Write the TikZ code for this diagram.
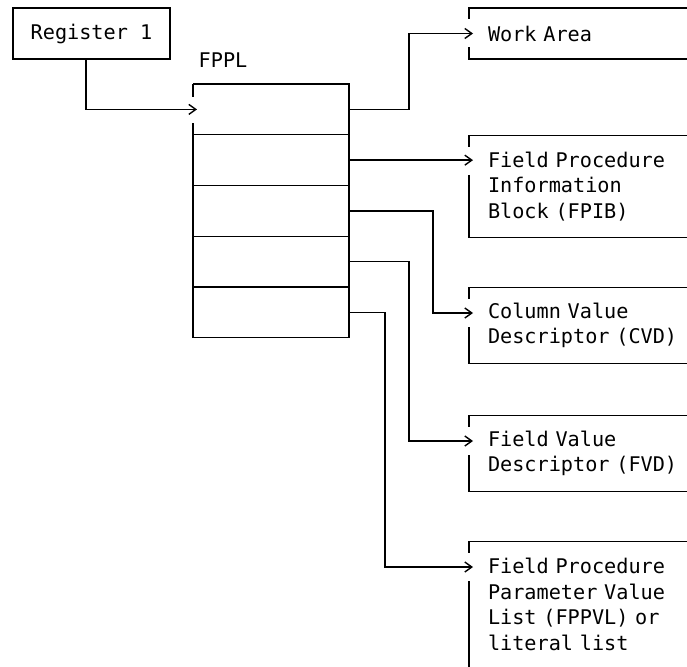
\documentclass[tikz,border=0pt]{standalone}
\usepackage{fontspec}
\newfontfamily\diagfont{DejaVu Sans Mono}
\usetikzlibrary{arrows.meta,positioning}

\begin{document}
\begin{tikzpicture}[
  x=1pt, y=-1pt,
  font=\diagfont\fontsize{20.2}{25.5}\selectfont,
  line width=1.4pt,
  >={Straight Barb[length=7pt,width=10pt]},
  node distance=0pt,
  regbox/.style={draw,minimum width=157pt,minimum height=51pt,inner sep=0pt},
  cell/.style={minimum width=156pt,minimum height=50.75pt,inner sep=0pt,outer sep=0pt},
  target/.style={anchor=north west,inner xsep=19pt,inner ysep=0pt,outer sep=0pt,
    text width=200pt,align=left}
]
\useasboundingbox (0,0) rectangle (687,666);
\coordinate (edge) at (687,0);

% register and list
\node[regbox] (reg) at (91.5,33.5) {Register 1};
\node (lbl) at (223,60) {FPPL};
\node[cell] (c1) at (271,109.4) {};
\node[cell] (c2) [below=of c1] {};
\node[cell] (c3) [below=of c2] {};
\node[cell] (c4) [below=of c3] {};
\node[cell] (c5) [below=of c4] {};

\draw (c1.north west) -- ++(0,13);
\draw (c1.west) ++(0,13.6) -- (c5.south west);
\draw (c1.north west) -- (c1.north east) -- (c5.south east) -- (c5.south west);
\foreach \i in {1,...,4}
  \draw (c\i.south west) -- (c\i.south east);

% control blocks
\node[target,minimum height=51pt] (wa) at (469,8) {Work Area};
\node[target,minimum height=102pt] (fpib) at (469,135.3)
  {Field Procedure\\Information\\Block (FPIB)};
\node[target,minimum height=76pt] (cvd) at (469,287.5)
  {Column Value\\Descriptor (CVD)};
\node[target,minimum height=76pt] (fvd) at (469,415.5)
  {Field Value\\Descriptor (FVD)};
\node[target,minimum height=126pt] (fppvl) at (469,541.5)
  {Field Procedure\\Parameter Value\\List (FPPVL) or\\literal list};

\foreach \t in {wa,fpib,cvd,fvd,fppvl} {
  \coordinate (\t-in) at ([xshift=4pt,yshift=-25.5pt]\t.north west);
  \draw (\t.north west -| edge) -- (\t.north west) -- ++(0,11.5);
}
\foreach \t in {wa,fpib,cvd,fvd}
  \draw (\t.north west) ++(0,39.5) -- (\t.south west) -- (\t.south west -| edge);
\draw (fppvl.north west) ++(0,39.5) -- (fppvl.south west);

% pointers
\coordinate (c1-in) at ([xshift=4pt]c1.west);
\draw[->] ([xshift=-5.5pt]reg.south) |- (c1-in);
\draw[->] (c1.east) -- ++(60,0) |- (wa-in);
\draw[->] (c2.east) -- (c2.east -| fpib-in);
\draw[->] (c3.east) -- ++(84,0) |- (cvd-in);
\draw[->] (c4.east) -- ++(60,0) |- (fvd-in);
\draw[->] (c5.east) -- ++(36,0) |- (fppvl-in);
\end{tikzpicture}
\end{document}
